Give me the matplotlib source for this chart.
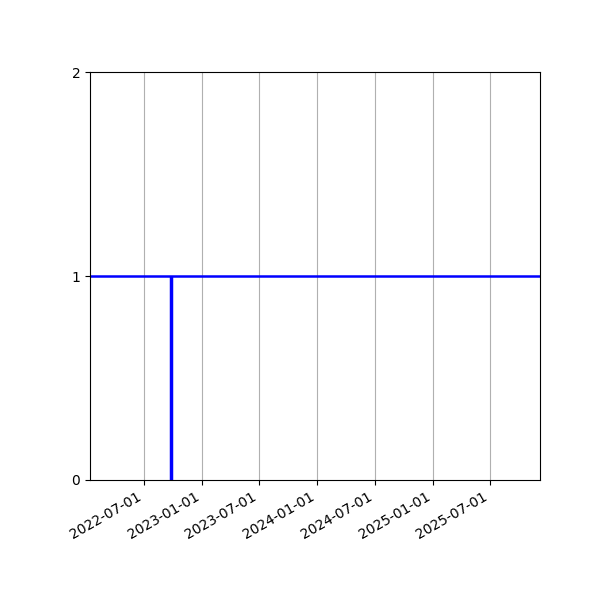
import numpy as np
import matplotlib
matplotlib.use("Agg")
import matplotlib.pyplot as plt
import matplotlib.dates as mdates

# data
x_start = np.datetime64("2022-01-11")
x_end = np.datetime64("2025-12-07")
event_date = np.datetime64("2022-09-24")
level = 1
y_ticks = [0, 1, 2]
x_ticks = ["2022-07-01", "2023-01-01", "2023-07-01", "2024-01-01",
           "2024-07-01", "2025-01-01", "2025-07-01"]

fig, ax = plt.subplots(figsize=(6, 6), dpi=100)
ax.axhline(level, color="blue", linewidth=1.8)
ax.vlines(event_date, 0, level, color="blue", linewidth=2.5)

ax.set_xlim(x_start, x_end)
ax.set_ylim(0, 2)
ax.set_yticks(y_ticks)
ax.set_xticks([np.datetime64(d) for d in x_ticks])
ax.xaxis.set_major_formatter(mdates.DateFormatter("%Y-%m-%d"))
ax.grid(axis="x", color="#b0b0b0")
fig.autofmt_xdate()
fig.subplots_adjust(left=0.15, right=0.9, top=0.88, bottom=0.2)

fig.savefig("out.png")
